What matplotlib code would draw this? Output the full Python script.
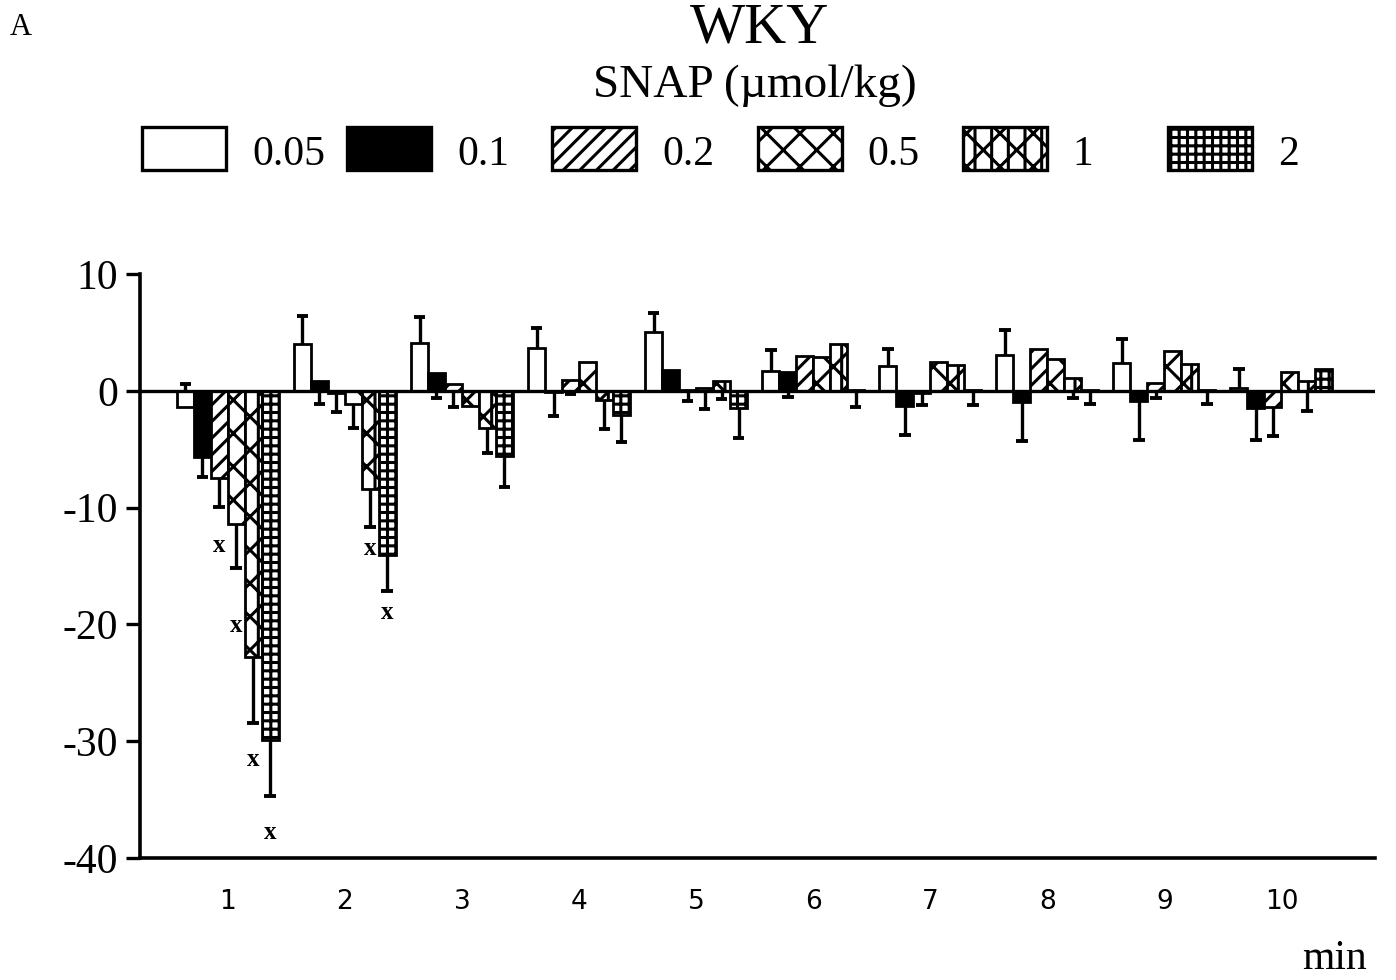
import numpy as np
import matplotlib

matplotlib.use("Agg")
import matplotlib.pyplot as plt
from matplotlib.patches import Rectangle

# change in mean arterial pressure after SNAP, per minute and dose
minutes = [1, 2, 3, 4, 5, 6, 7, 8, 9, 10]
doses = ["0.05", "0.1", "0.2", "0.5", "1", "2"]

mean_005 = [-1.4, 4.0, 4.1, 3.7, 5.0, 1.7, 2.1, 3.1, 2.4, 0.2]
mean_01 = [-5.7, 0.85, 1.5, -0.1, 1.75, 1.65, -1.3, -1.0, -0.85, -1.5]
mean_02 = [-7.45, -0.2, 0.6, 0.9, 0.1, 3.0, -0.2, 3.6, 0.7, -1.4]
mean_05 = [-11.4, -1.1, -1.3, 2.5, 0.2, 2.9, 2.5, 2.7, 3.4, 1.65]
mean_1 = [-22.8, -8.4, -3.2, -0.8, 0.8, 4.0, 2.2, 1.1, 2.3, 0.8]
mean_2 = [-29.9, -14.1, -5.6, -2.1, -1.5, 0.05, 0.05, 0.05, 0.05, 1.9]

# SEM whiskers; sign gives the side the whisker is drawn on (+ up, - down)
sem_005 = [2.0, 2.4, 2.2, 1.7, 1.7, 1.8, 1.5, 2.1, 2.0, 1.65]
sem_01 = [-1.7, -2.0, -2.15, -2.1, 0, -2.15, -2.5, -3.3, -3.4, -2.7]
sem_02 = [-2.5, -1.6, -2.0, -1.2, -1.0, 0, -1.0, 0, -1.3, -2.5]
sem_05 = [-3.8, -2.1, 0, 0, -1.8, 0, 0, 0, 0, 0]
sem_1 = [-5.6, -3.3, -2.1, -2.5, -1.5, 0, 0, -1.7, 0, -2.5]
sem_2 = [-4.8, -3.0, -2.6, -2.3, -2.5, -1.4, -1.3, -1.2, -1.2, 0]

means = [mean_005, mean_01, mean_02, mean_05, mean_1, mean_2]
sems = [sem_005, sem_01, sem_02, sem_05, sem_1, sem_2]

# significant differences (x) below the whiskers
sig_minute = [1, 1, 1, 1, 2, 2]
sig_dose = ["0.2", "0.5", "1", "2", "1", "2"]
sig_gap = [3.3, 4.9, 3.2, 3.1, 1.8, 1.9]

faces = ["white", "black", "white", "white", "white", "white"]
hatches = [None, None, "//", "x", "x|", "++"]

SERIF = "Liberation Serif"

plt.rcParams["hatch.linewidth"] = 2.2
plt.rcParams["axes.unicode_minus"] = False

fig = plt.figure(figsize=(13.96, 9.8), dpi=100)
ax = fig.add_axes([0.1003, 0.1245, 0.8847, 0.5959])

width = 0.145
xs = {}
for i, dose in enumerate(doses):
    x = np.array(minutes) + (i - 2.5) * width
    xs[dose] = x
    m = np.array(means[i])
    e = np.array(sems[i])
    ax.bar(x, m, width, color=faces[i], edgecolor="black", hatch=hatches[i],
           linewidth=2.0, zorder=2)
    keep = e != 0
    ends = m + e
    ax.vlines(x[keep], m[keep], ends[keep], color="black", lw=2.4, zorder=1)
    ax.hlines(ends[keep], x[keep] - 0.05, x[keep] + 0.05, color="black",
              lw=2.8, zorder=1)

for mnt, dose, gap in zip(sig_minute, sig_dose, sig_gap):
    i = doses.index(dose)
    k = minutes.index(mnt)
    y = means[i][k] + sems[i][k] - gap
    ax.text(xs[dose][k], y, "x", ha="center", va="center", fontsize=18,
            fontweight="bold", family=SERIF)

ax.axhline(0, color="black", lw=2.4, zorder=3)

ax.set_xlim(0.25, 10.8)
ax.set_ylim(-40, 10)
ax.set_xticks(minutes)
ax.set_xticklabels([str(m) for m in minutes], family="DejaVu Sans", fontsize=19)
ax.set_yticks([10, 0, -10, -20, -30, -40])
ax.set_yticklabels(["10", "0", "-10", "-20", "-30", "-40"], family=SERIF,
                   fontsize=30)
ax.tick_params(axis="x", length=0, pad=22)
ax.tick_params(axis="y", length=10, width=2.4, pad=6)
for side in ("top", "right"):
    ax.spines[side].set_visible(False)
for side in ("left", "bottom"):
    ax.spines[side].set_linewidth(2.6)

# legend row across the top
step = 205.2 / 1396
for i, dose in enumerate(doses):
    x0 = 142 / 1396 + i * step
    fig.add_artist(Rectangle((x0, 0.8265), 84 / 1396, 0.0439,
                             transform=fig.transFigure, facecolor=faces[i],
                             edgecolor="black", hatch=hatches[i], lw=2.4))
    fig.text(x0 + 110 / 1396, 0.842, dose, ha="left", va="center",
             fontsize=30, family=SERIF)

fig.text(0.0072, 0.972, "A", ha="left", va="center", fontsize=22, family=SERIF)
fig.text(0.5444, 0.971, "WKY", ha="center", va="center", fontsize=42,
         family=SERIF)
fig.text(0.541, 0.913, "SNAP (µmol/kg)", ha="center", va="center",
         fontsize=34, family=SERIF)
fig.text(0.956, 0.022, "min", ha="center", va="center", fontsize=30,
         family=SERIF)

fig.savefig("out.png", dpi=100)
